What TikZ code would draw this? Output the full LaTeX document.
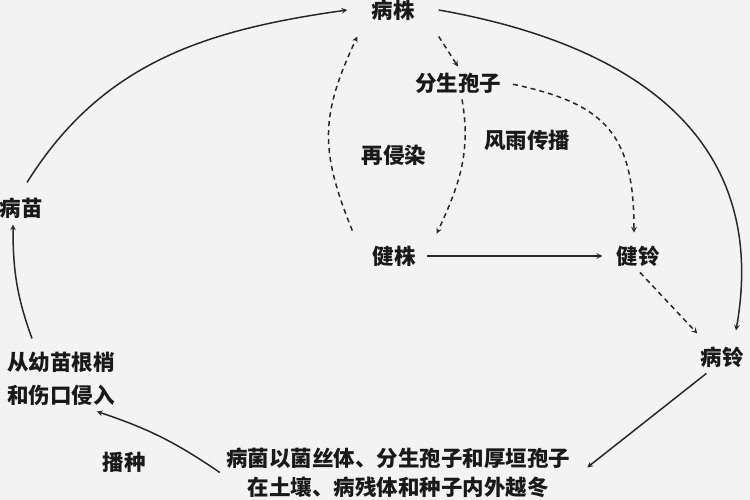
\documentclass[tikz,border=0pt]{standalone}
\usepackage{fontspec}
\usepackage{tikz}
\newfontfamily\cjk{Noto Sans CJK SC}
\definecolor{ink}{RGB}{25, 25, 25}
\definecolor{wire}{RGB}{40, 40, 40}
\definecolor{paper}{RGB}{243, 243, 243}

\begin{document}
\begin{tikzpicture}[
   x=1pt, y=1pt,
   lbl/.style={font=\cjk\bfseries\fontsize{21.5}{29}\selectfont, text=ink,
               inner sep=6, align=center},
   solidarr/.style={->, >=stealth, color=wire, line width=1.5},
   dasharr/.style={->, >=stealth, color=wire, line width=1.5,
                   dash pattern=on 5pt off 4pt}
  ]

  \useasboundingbox (0, 0) rectangle (750, 500);
  \fill[paper] (0, 0) rectangle (750, 500);

  % Cycle nodes
  \node (bz) at (393, 490) [lbl, inner xsep=24, inner ysep=16] {病株};
  \node (fs) at (458, 417) [lbl] {分生孢子};
  \node (jz) at (394, 244) [lbl] {健株};
  \node (jl) at (638, 244) [lbl] {健铃};
  \node (bl) at (722, 143) [lbl] {病铃};
  \node (yd) at (398, 27.5) [lbl] {病菌以菌丝体、分生孢子和厚垣孢子\\在土壤、病残体和种子内外越冬};
  \node (qr) at (61, 121.5) [lbl] {从幼苗根梢\\[4pt]和伤口侵入};
  \node (bm) at (21, 292) [lbl] {病苗};

  % Edge labels
  \node (zq) at (394, 345) [lbl] {再侵染};
  \node (fy) at (527, 360) [lbl] {风雨传播};
  \node (bzh) at (124, 38) [lbl] {播种};

  % Main cycle
  \draw[solidarr] ([shift={(6,9)}]bm.north) to[out=58, in=188] (bz.west);
  \draw[solidarr] (bz.east) to[out=-10, in=80, looseness=1.15] ([shift={(14,10)}]bl.north);
  \draw[solidarr, shorten <=5pt, shorten >=8pt] (jz.east) -- (jl.west);
  \draw[solidarr] ([xshift=12]bl.south west) -- ([shift={(11,5)}]yd.east);
  \draw[solidarr] (yd.west) to[bend right=8] ([xshift=-24]qr.south east);
  \draw[solidarr] ([shift={(-29,7)}]qr.north) to[out=110, in=-90] ([xshift=-8]bm.south);

  % Spread of spores
  \draw[dasharr] (bz.south east) -- (fs.north);
  \draw[dasharr] ([xshift=4]fs.south) to[out=-80, in=65] ([shift={(15,6)}]jz.north east);
  \draw[dasharr, shorten <=6pt] (fs.east) to[out=-12, in=90, looseness=1.3] ([shift={(-4,7)}]jl.north);
  \draw[dasharr] ([shift={(-14,9)}]jz.north west) to[out=112, in=-115, looseness=1.15] ([xshift=10]bz.south west);
  \draw[dasharr] ([xshift=2]jl.south) -- ([shift={(3,7)}]bl.north west);

\end{tikzpicture}
\end{document}
